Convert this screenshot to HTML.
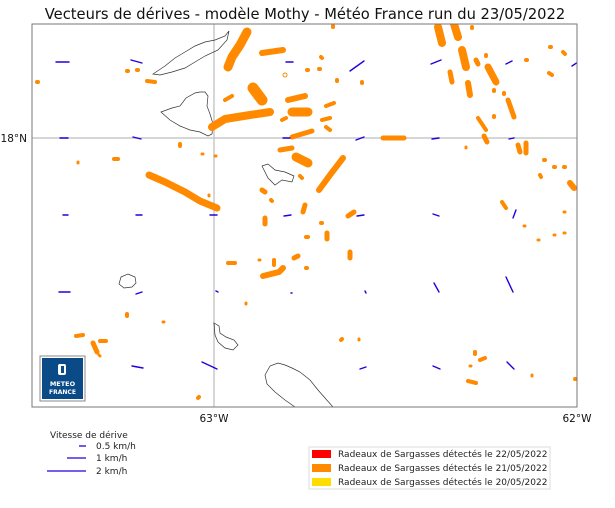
<!DOCTYPE html>
<html><head><meta charset="utf-8"><style>
body{margin:0;background:#fff;}
svg text{font-family:"DejaVu Sans","Liberation Sans",sans-serif;}
</style></head><body>
<svg width="615" height="503" viewBox="0 0 615 503" xmlns="http://www.w3.org/2000/svg">
<rect width="615" height="503" fill="#fff"/>
<text x="305" y="19" font-size="14.7" text-anchor="middle" fill="#111">Vecteurs de dérives - modèle Mothy - Météo France run du 23/05/2022</text>
<defs><clipPath id="c"><rect x="32" y="24" width="545" height="383"/></clipPath></defs>
<g clip-path="url(#c)">
<line x1="214" y1="24" x2="214" y2="407" stroke="#c8c8c8" stroke-width="1.5"/>
<line x1="32" y1="138" x2="577" y2="138" stroke="#c8c8c8" stroke-width="1.5"/>
<g fill="none" stroke="#333" stroke-width="0.7">
<path d="M153,74 L165,66 175,58 185,52 195,46 205,42 215,40 225,36 229,31 227,40 218,50 205,56 195,62 185,68 172,72 160,75 Z"/>
<path d="M161,112 L172,108 180,106 186,98 195,93 200,92 205,92 208,96 207,106 210,114 213,124 212,134 208,136 200,132 190,130 180,126 170,120 Z"/>
<path d="M262,166 L268,164 275,170 285,172 294,176 292,182 282,180 275,185 268,178 Z"/>
<path d="M121,277 L128,274 135,277 136,283 132,287 124,288 119,284 Z"/>
<path d="M214,323 L219,326 220,333 226,337 234,340 238,345 233,350 225,348 218,342 215,335 Z"/>
<path d="M265,375 L270,366 278,363 285,365 292,368 300,372 310,380 318,390 325,398 333,407 L295,407 285,400 275,392 267,384 Z"/>
</g>
<g fill="none" stroke="#ff8a00" stroke-linecap="round" stroke-linejoin="round">
<polyline stroke-width="9" points="247,32 240,45 232,57 228,67"/>
<polyline stroke-width="6" points="262,53 283,50"/>
<circle cx="285" cy="75" r="2"/>
<polyline stroke-width="11" points="253,88 262,100"/>
<polyline stroke-width="6" points="288,100 305,96"/>
<polyline stroke-width="9" points="292,112 308,112"/>
<polyline stroke-width="8" points="212,127 225,119 250,115 270,112"/>
<polyline stroke-width="5" points="292,137 312,131"/>
<polyline stroke-width="4" points="322,120 330,118"/>
<polyline stroke-width="4" points="326,127 330,130"/>
<polyline stroke-width="4" points="326,106 334,103"/>
<polyline stroke-width="4" points="225,100 232,96"/>
<polyline stroke-width="4" points="282,120 286,118"/>
<polyline stroke-width="4" points="37,82 38,82"/>
<polyline stroke-width="4" points="137,70 138,70"/><polyline stroke-width="4" points="127,71 128,71"/><polyline stroke-width="4" points="147,81 155,82"/>
<polyline stroke-width="4" points="333,26 333,27"/><polyline stroke-width="4" points="362,82 362,83"/><polyline stroke-width="4" points="337,80 337,81"/>
<polyline stroke-width="4" points="307,70 308,70"/><polyline stroke-width="4" points="319,69 320,69"/><polyline stroke-width="4" points="321,57 322,58"/>
<polyline stroke-width="8" points="438,27 442,43"/><polyline stroke-width="8" points="454,24 458,37"/><polyline stroke-width="4" points="472,27 472,28"/>
<polyline stroke-width="8" points="462,50 466,67"/><polyline stroke-width="5" points="476,60 478,64"/><polyline stroke-width="4" points="486,55 486,56"/>
<polyline stroke-width="7" points="488,67 496,82"/><polyline stroke-width="5" points="450,72 452,82"/>
<polyline stroke-width="6" points="468,83 470,95"/><polyline stroke-width="4" points="494,90 494,91"/><polyline stroke-width="4" points="504,93 504,94"/>
<polyline stroke-width="5" points="508,100 514,117"/><polyline stroke-width="4" points="478,118 486,130"/><polyline stroke-width="4" points="494,116 494,117"/>
<polyline stroke-width="5" points="484,136 487,142"/><polyline stroke-width="3" points="466,147 466,148"/>
<polyline stroke-width="5" points="518,145 520,152"/><polyline stroke-width="5" points="526,143 526,153"/>
<polyline stroke-width="4" points="550,47 551,47"/><polyline stroke-width="4" points="563,52 565,54"/><polyline stroke-width="4" points="526,60 527,60"/><polyline stroke-width="4" points="549,73 552,75"/>
<polyline stroke-width="4" points="544,160 545,160"/><polyline stroke-width="4" points="554,167 555,167"/><polyline stroke-width="4" points="564,167 565,167"/><polyline stroke-width="4" points="540,175 541,177"/>
<polyline stroke-width="6" points="570,183 574,188"/>
<polyline stroke-width="4" points="502,202 506,208"/><polyline stroke-width="3" points="564,212 565,212"/><polyline stroke-width="3" points="524,226 525,226"/>
<polyline stroke-width="3" points="554,235 555,235"/><polyline stroke-width="3" points="564,233 565,233"/><polyline stroke-width="3" points="538,240 539,240"/>
<polyline stroke-width="5" points="383,138 404,138"/>
<polyline stroke-width="4" points="180,144 180,146"/><polyline stroke-width="4" points="114,159 118,159"/><polyline stroke-width="3" points="78,162 78,163"/>
<polyline stroke-width="3" points="202,154 203,154"/><polyline stroke-width="3" points="215,156 216,156"/>
<polyline stroke-width="7" points="149,175 165,182 185,192 200,201 217,208"/>
<polyline stroke-width="3" points="209,195 209,196"/>
<polyline stroke-width="5" points="280,150 292,148"/><polyline stroke-width="9" points="296,157 308,163"/><polyline stroke-width="4" points="300,176 302,178"/>
<polyline stroke-width="6" points="343,158 330,175 319,190"/>
<polyline stroke-width="5" points="262,190 265,192"/><polyline stroke-width="4" points="271,200 272,201"/><polyline stroke-width="5" points="305,205 303,212"/>
<polyline stroke-width="5" points="348,216 354,212"/><polyline stroke-width="5" points="265,218 265,224"/><polyline stroke-width="4" points="321,223 322,223"/>
<polyline stroke-width="5" points="327,233 327,239"/><polyline stroke-width="4" points="306,237 308,237"/>
<polyline stroke-width="4" points="228,263 235,263"/><polyline stroke-width="3" points="259,260 260,260"/><polyline stroke-width="4" points="274,260 274,265"/>
<polyline stroke-width="5" points="294,258 298,256"/><polyline stroke-width="5" points="350,252 350,258"/>
<polyline stroke-width="6" points="263,276 279,272 283,268"/><polyline stroke-width="4" points="306,268 307,268"/>
<polyline stroke-width="3" points="246,303 246,304"/><polyline stroke-width="4" points="127,314 127,316"/><polyline stroke-width="3" points="163,322 164,322"/>
<polyline stroke-width="4" points="76,336 83,335"/><polyline stroke-width="5" points="93,343 97,352"/><polyline stroke-width="4" points="100,341 106,341"/><polyline stroke-width="3" points="99,355 100,356"/>
<polyline stroke-width="4" points="198,398 199,397"/>
<polyline stroke-width="4" points="341,340 342,339"/><polyline stroke-width="3" points="359,339 359,340"/>
<polyline stroke-width="4" points="475,352 475,354"/><polyline stroke-width="4" points="480,360 485,358"/><polyline stroke-width="3" points="470,366 471,366"/>
<polyline stroke-width="4" points="468,381 476,383"/><polyline stroke-width="3" points="532,375 532,376"/><polyline stroke-width="4" points="578,379 575,379"/>
</g>
<g stroke="#2200dd" stroke-width="1.4" stroke-linecap="round">
<line x1="56" y1="62" x2="69" y2="62"/><line x1="131" y1="60" x2="142" y2="63"/><line x1="286" y1="62" x2="293" y2="62"/><line x1="350" y1="71" x2="364" y2="61"/><line x1="431" y1="64" x2="441" y2="60"/><line x1="506" y1="64" x2="512" y2="61"/><line x1="572" y1="66" x2="578" y2="62"/>
<line x1="60" y1="138" x2="68" y2="138"/><line x1="133" y1="137" x2="141" y2="139"/><line x1="283" y1="138" x2="290" y2="138"/><line x1="356" y1="140" x2="364" y2="137"/><line x1="432" y1="139" x2="439" y2="138"/><line x1="509" y1="139" x2="514" y2="138"/>
<line x1="63" y1="215" x2="68" y2="215"/><line x1="136" y1="215" x2="142" y2="215"/><line x1="210" y1="215" x2="217" y2="215"/><line x1="284" y1="216" x2="291" y2="215"/><line x1="357" y1="216" x2="364" y2="215"/><line x1="433" y1="214" x2="439" y2="216"/><line x1="513" y1="218" x2="516" y2="210"/>
<line x1="59" y1="292" x2="70" y2="292"/><line x1="136" y1="294" x2="142" y2="292"/><line x1="216" y1="291" x2="218" y2="292"/><line x1="291" y1="293" x2="292" y2="293"/><line x1="365" y1="291" x2="366" y2="293"/><line x1="434" y1="283" x2="439" y2="292"/><line x1="506" y1="277" x2="513" y2="292"/><line x1="578" y1="291" x2="587" y2="293"/>
<line x1="132" y1="366" x2="143" y2="368"/><line x1="202" y1="362" x2="217" y2="369"/><line x1="360" y1="369" x2="366" y2="367"/><line x1="433" y1="366" x2="440" y2="369"/><line x1="507" y1="362" x2="514" y2="369"/><line x1="578" y1="366" x2="588" y2="369"/>
</g>
<rect x="40" y="356" width="45" height="45" fill="#fff" stroke="#888" stroke-width="1"/>
<rect x="42" y="358" width="41" height="41" fill="#0a4a86"/>
<rect x="58" y="364" width="8" height="11" rx="2" fill="#fff"/><rect x="61" y="366" width="3" height="7" fill="#0a4a86"/>
<text x="62.5" y="386" font-size="6.5" font-weight="bold" fill="#fff" text-anchor="middle">METEO</text>
<text x="62.5" y="394" font-size="6" font-weight="bold" fill="#fff" text-anchor="middle">FRANCE</text>
</g>
<rect x="32" y="24" width="545" height="383" fill="none" stroke="#777" stroke-width="1"/>
<text x="27" y="142" font-size="10.5" text-anchor="end" fill="#111">18°N</text>
<text x="214" y="422" font-size="10.5" text-anchor="middle" fill="#111">63°W</text>
<text x="577" y="422" font-size="10.5" text-anchor="middle" fill="#111">62°W</text>
<text x="50" y="438" font-size="9" fill="#222">Vitesse de dérive</text>
<g stroke="#2200dd" stroke-width="1.3"><line x1="79" y1="446" x2="86" y2="446"/><line x1="67" y1="458" x2="86" y2="458"/><line x1="47" y1="471" x2="86" y2="471"/></g>
<text x="96" y="449" font-size="9" fill="#222">0.5 km/h</text>
<text x="96" y="461" font-size="9" fill="#222">1 km/h</text>
<text x="96" y="474" font-size="9" fill="#222">2 km/h</text>
<rect x="309" y="447" width="241" height="42" fill="#fff" stroke="#ddd" stroke-width="1"/>
<rect x="312" y="450" width="19" height="8" fill="#ff0000"/>
<rect x="312" y="464" width="19" height="8" fill="#ff8a00"/>
<rect x="312" y="478" width="19" height="8" fill="#ffdd00"/>
<text x="338" y="457" font-size="9" fill="#222">Radeaux de Sargasses détectés le 22/05/2022</text>
<text x="338" y="471" font-size="9" fill="#222">Radeaux de Sargasses détectés le 21/05/2022</text>
<text x="338" y="485" font-size="9" fill="#222">Radeaux de Sargasses détectés le 20/05/2022</text>
</svg>
</body></html>
